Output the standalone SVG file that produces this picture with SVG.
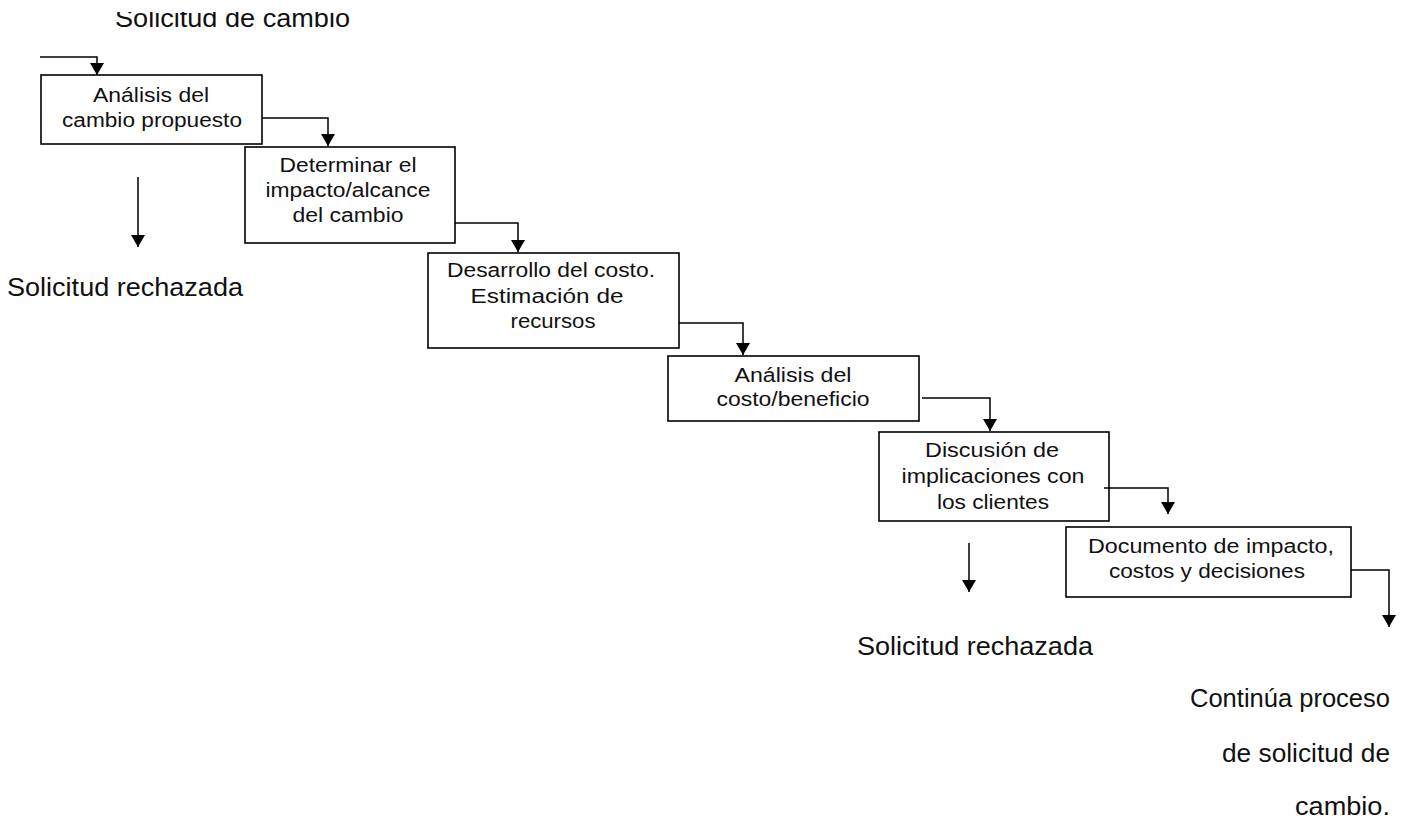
<svg xmlns="http://www.w3.org/2000/svg" width="1406" height="818" viewBox="0 0 1406 818">
  <style>
    .box { fill: #ffffff; stroke: #000000; stroke-width: 1.6; }
    .conn { fill: none; stroke: #000000; stroke-width: 1.5; marker-end: url(#arrow); }
    .t { font-family: "Liberation Sans", Arial, sans-serif; font-size: 20px; fill: #111111; text-anchor: middle; }
    .lbl { font-family: "Liberation Sans", Arial, sans-serif; font-size: 25px; fill: #111111; }
    .end { text-anchor: end; }
  </style>
  <defs>
    <marker id="arrow" viewBox="0 0 12 14" refX="12" refY="7" markerWidth="12" markerHeight="14" markerUnits="userSpaceOnUse" orient="auto">
      <path d="M0,0 L12,7 L0,14 Z" fill="#000000"/>
    </marker>
    <!-- the heading sits against the top edge, its ascenders trimmed -->
    <clipPath id="top-trim">
      <rect x="0" y="12" width="1406" height="40"/>
    </clipPath>
  </defs>
  <rect width="1406" height="818" fill="#ffffff"/>

  <!-- free labels -->
  <g id="label-solicitud" clip-path="url(#top-trim)">
    <text class="lbl" x="115" y="27" textLength="235" lengthAdjust="spacingAndGlyphs">Solicitud de cambio</text>
  </g>
  <g id="label-rechazada-1">
    <text class="lbl" x="7" y="296" textLength="236" lengthAdjust="spacingAndGlyphs">Solicitud rechazada</text>
  </g>
  <g id="label-rechazada-2">
    <text class="lbl" x="857" y="655" textLength="236" lengthAdjust="spacingAndGlyphs">Solicitud rechazada</text>
  </g>
  <g id="label-continua">
    <text class="lbl end" x="1390" y="707" textLength="200" lengthAdjust="spacingAndGlyphs">Continúa proceso</text>
    <text class="lbl end" x="1390" y="762" textLength="168" lengthAdjust="spacingAndGlyphs">de solicitud de</text>
    <text class="lbl end" x="1390" y="815" textLength="95" lengthAdjust="spacingAndGlyphs">cambio.</text>
  </g>

  <!-- process steps -->
  <g id="analisis-cambio">
    <rect class="box" x="41" y="75" width="221" height="69"/>
    <text class="t" x="151" y="102" textLength="116" lengthAdjust="spacingAndGlyphs">Análisis del</text>
    <text class="t" x="152" y="127" textLength="180" lengthAdjust="spacingAndGlyphs">cambio propuesto</text>
  </g>
  <g id="determinar-impacto">
    <rect class="box" x="245" y="147" width="210" height="96"/>
    <text class="t" x="348" y="172" textLength="137" lengthAdjust="spacingAndGlyphs">Determinar el</text>
    <text class="t" x="348" y="197" textLength="165" lengthAdjust="spacingAndGlyphs">impacto/alcance</text>
    <text class="t" x="348" y="222" textLength="111" lengthAdjust="spacingAndGlyphs">del cambio</text>
  </g>
  <g id="desarrollo-costo">
    <rect class="box" x="428" y="253" width="251" height="95"/>
    <text class="t" x="551" y="277" textLength="208" lengthAdjust="spacingAndGlyphs">Desarrollo del costo.</text>
    <text class="t" x="547" y="303" textLength="153" lengthAdjust="spacingAndGlyphs">Estimación de</text>
    <text class="t" x="553" y="328" textLength="85" lengthAdjust="spacingAndGlyphs">recursos</text>
  </g>
  <g id="analisis-costo">
    <rect class="box" x="668" y="356" width="251" height="65"/>
    <text class="t" x="793" y="382" textLength="117" lengthAdjust="spacingAndGlyphs">Análisis del</text>
    <text class="t" x="793" y="406" textLength="153" lengthAdjust="spacingAndGlyphs">costo/beneficio</text>
  </g>
  <g id="discusion-clientes">
    <rect class="box" x="879" y="432" width="230" height="89"/>
    <text class="t" x="992" y="457" textLength="134" lengthAdjust="spacingAndGlyphs">Discusión de</text>
    <text class="t" x="993" y="483" textLength="183" lengthAdjust="spacingAndGlyphs">implicaciones con</text>
    <text class="t" x="993" y="509" textLength="112" lengthAdjust="spacingAndGlyphs">los clientes</text>
  </g>
  <g id="documento-impacto">
    <rect class="box" x="1066" y="527" width="285" height="70"/>
    <text class="t" x="1211" y="553" textLength="246" lengthAdjust="spacingAndGlyphs">Documento de impacto,</text>
    <text class="t" x="1207" y="578" textLength="196" lengthAdjust="spacingAndGlyphs">costos y decisiones</text>
  </g>

  <!-- connectors -->
  <g id="connectors">
    <path class="conn" d="M40,57 H97 V75"/>
    <path class="conn" d="M262,118 H328 V146"/>
    <path class="conn" d="M455,223 H518 V252"/>
    <path class="conn" d="M679,323 H743 V355"/>
    <path class="conn" d="M922,398 H990 V431"/>
    <path class="conn" d="M1104,488 H1168 V514"/>
    <path class="conn" d="M1351,570 H1389 V627"/>
    <path class="conn" d="M138,177 V247"/>
    <path class="conn" d="M969,543 V592"/>
  </g>
</svg>
